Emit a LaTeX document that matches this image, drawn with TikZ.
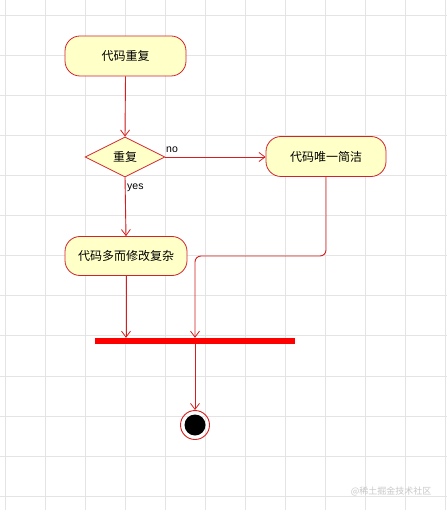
\documentclass[tikz,border=0pt]{standalone}
\usepackage{fontspec}
\setmainfont{Liberation Sans}
\newfontfamily\cjk{Noto Sans CJK SC}
\usetikzlibrary{arrows.meta,shapes.geometric}
\definecolor{bord}{RGB}{210,35,45}
\definecolor{linec}{RGB}{215,30,30}
\definecolor{fillc}{RGB}{255,255,200}
\definecolor{gridc}{RGB}{228,228,228}
\definecolor{barc}{RGB}{255,0,0}
\definecolor{wmc}{RGB}{200,200,200}
\tikzset{
  act/.style={draw=bord, fill=fillc, rounded corners=15pt, minimum width=121pt, minimum height=40pt, inner sep=0pt, line width=0.8pt, font=\cjk\fontsize{12}{14}\selectfont},
  dec/.style={diamond, draw=bord, fill=fillc, minimum width=80pt, minimum height=40pt, inner sep=0pt, line width=0.8pt, font=\cjk\fontsize{12}{14}\selectfont},
  arr/.style={draw=linec, line width=0.9pt, -{Straight Barb[length=6pt,width=9pt,line width=0.8pt]}},
  lbl/.style={font=\fontsize{10.5}{12}\selectfont, inner sep=1pt},
  syncbar/.style={fill=barc, minimum width=200pt, minimum height=6pt, inner sep=0pt},
  finalnode/.style={circle, draw=linec, line width=0.9pt, minimum size=29pt, inner sep=0pt},
}
\begin{document}
\begin{tikzpicture}[x=1pt,y=-1pt]
\useasboundingbox (0,0) rectangle (447,510);
\fill[white] (0,0) rectangle (447,510);
\foreach \i in {0,...,11} {\draw[gridc, line width=0.8pt] ({5+40*\i},0) -- ({5+40*\i},510);}
\foreach \i in {0,...,12} {\draw[gridc, line width=0.8pt] (0,{15+40.1*\i}) -- (447,{15+40.1*\i});}

\node[act] (top) at (125.5,56) {代码重复};
\node[dec] (dia) at (125,157) {重复};
\node[act, minimum width=120pt] (right) at (326,156.5) {代码唯一简洁};
\node[act, minimum width=122pt, minimum height=39pt] (bottom) at (126,256) {代码多而修改复杂};
\node[syncbar] (bar) at (195,341) {};
\node[finalnode] (end) at (195,425) {};
\fill[black] (end.center) circle (10.5pt);

\draw[arr] (top.south) -- (dia.north);
\draw[arr] (dia.south) -- (bottom.north);
\node[lbl, anchor=north west] (yes) at (126,183) {yes};
\draw[arr] (dia.east) -- (dia.east -| right.west);
\node[lbl, anchor=south west] (no) at (165,154) {no};
\draw[arr] (bottom.south) -- (bottom.south |- bar.north);
\draw[arr, rounded corners=6pt] (right.south) -- (right.south |- 0,256) -| (bar.north);
\draw[arr] (bar.south) -- (end.north);

\node[font=\cjk\fontsize{9}{10}\selectfont, text=wmc] (wm) at (391,491) {@稀土掘金技术社区};
\end{tikzpicture}
\end{document}
